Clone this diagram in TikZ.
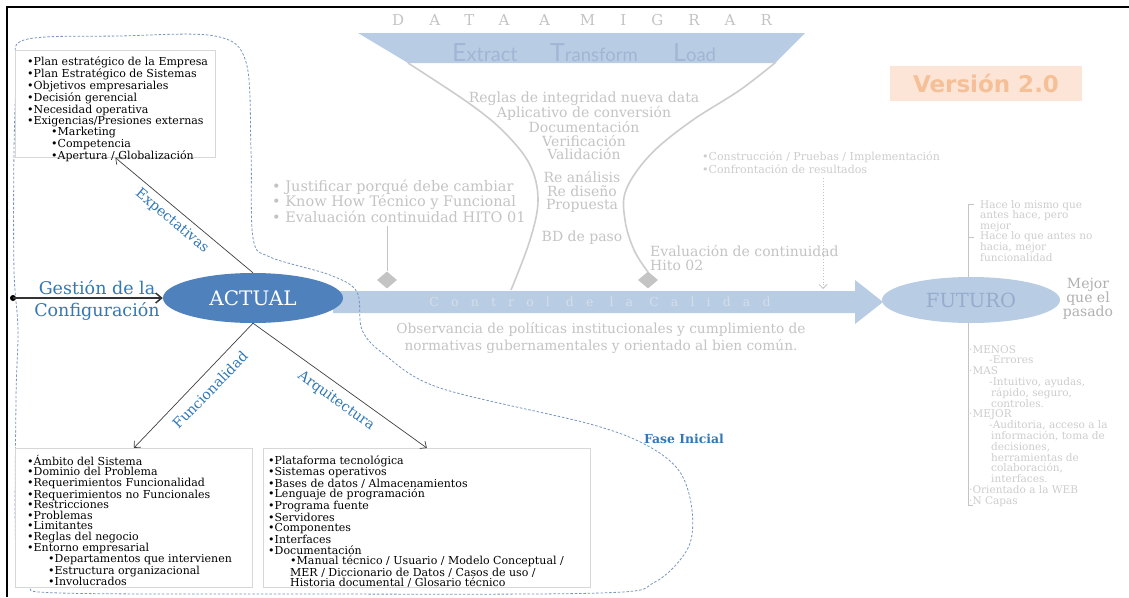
\documentclass[tikz,border=0pt]{standalone}
\usepackage{fontspec}
\setmainfont{DejaVu Serif}
\newfontfamily\dvsans{DejaVu Sans}
\newfontfamily\latof{Lato}
\usetikzlibrary{arrows.meta,shapes.geometric}
\newcommand\fsz[2]{\fontsize{#1}{#2}\selectfont}
\definecolor{bandblue}{RGB}{184,204,228}
\definecolor{actblue}{RGB}{79,129,189}
\definecolor{lblblue}{RGB}{50,120,182}
\definecolor{lgray}{RGB}{196,196,196}
\definecolor{llgray}{RGB}{205,205,205}
\definecolor{dashc}{RGB}{120,150,190}
\definecolor{peach}{RGB}{252,229,214}
\definecolor{peachtxt}{RGB}{245,192,152}
\definecolor{etltxt}{RGB}{160,182,212}
\definecolor{ctrltxt}{RGB}{214,222,232}
\definecolor{futtxt}{RGB}{150,172,205}
\definecolor{boxline}{RGB}{215,215,215}
\tikzset{
  listbox/.style={draw=boxline, line width=0.7pt, fill=white, anchor=north west, inner sep=0pt},
  listtxt/.style={anchor=north west, inner sep=0pt, align=left, font=\fsz{11}{10.5}},
  graytxt/.style={text=lgray, inner sep=0pt},
  bluelbl/.style={text=lblblue, inner sep=0pt, font=\fsz{14}{14}},
  arr/.style={draw=black!75, line width=0.7pt, -{Straight Barb[length=5pt,width=9pt]}},
  curve/.style={draw=lgray!85, line width=1.6pt},
  gdiam/.style={diamond, fill=lgray, minimum width=20pt, minimum height=17pt, inner sep=0pt}
}
\begin{document}
\begin{tikzpicture}[x=1pt,y=-1pt]
\useasboundingbox (0,0) rectangle (1129,597);
\fill[white] (0,0) rectangle (1129,597);
% frame
\draw[line width=2.5pt] (1129,7) -- (7,7) -- (7,597);

% ETL banner
\fill[bandblue] (358,33) -- (805,33) -- (775,63) -- (408,63) -- cycle;
\node[anchor=base west, inner sep=0pt, text=lgray, font=\fsz{15}{15}\addfontfeature{LetterSpace=167}] (datam) at (392,25) {DATA A MIGRAR};
\node[anchor=base west, inner sep=0pt, text=etltxt, font=\latof] (ext) at (452,61) {{\fsz{25}{25}E}{\fsz{20}{20}xtract}};
\node[anchor=base west, inner sep=0pt, text=etltxt, font=\latof] (tra) at (550,61) {{\fsz{25}{25}T}{\fsz{18.5}{18.5}ransform}};
\node[anchor=base west, inner sep=0pt, text=etltxt, font=\latof] (loa) at (673,61) {{\fsz{25}{25}L}{\fsz{18.5}{18.5}oad}};

% hourglass curves
\draw[curve] plot[smooth, tension=0.6] coordinates {(408,63) (470,104) (505,133) (530,165) (538,200) (530,240) (511,290)};
\draw[curve] plot[smooth, tension=0.6] coordinates {(776,62) (740,90) (690,122) (650,155) (626,190) (625,220) (634,250) (648,272)};

% center texts
\node[graytxt, anchor=north, align=center, font=\fsz{14}{13.5}] (reglas) at (584,91.5) {Reglas de integridad nueva data\\Aplicativo de conversión\\Documentación\\Verificación\\Validación};
\node[graytxt, anchor=north, align=center, font=\fsz{14}{13.5}] (rean) at (582,171.5) {Re análisis\\Re diseño\\Propuesta};
\node[graytxt, anchor=north, align=center, font=\fsz{14}{13.5}] (bdp) at (582,230.5) {BD de paso};

% left gray text + diamond
\node[graytxt, anchor=north west, align=left, font=\fsz{14.5}{13.5}] (just) at (272,179.5) {• Justificar porqué debe cambiar\\• Know How Técnico y Funcional\\• Evaluación continuidad HITO 01};
\node[gdiam] (d1) at (387,280) {};
\draw[lgray, line width=0.8pt] (d1 |- just.south) ++(0,3) -- (d1.north);

% right diamond and texts
\node[gdiam] (d2) at (648,280) {};
\node[graytxt, anchor=north west, align=left, font=\fsz{14}{13.5}] (evc) at (650,245.5) {Evaluación de continuidad\\Hito 02};
\node[graytxt, text=llgray, anchor=north west, align=left, font=\fsz{11}{10.5}] (constr) at (702,152) {•Construcción / Pruebas / Implementación\\•Confrontación de resultados};
\coordinate (dtop) at (823,178);
\coordinate (dbot) at (823,289);
\draw[lgray, line width=0.8pt, dotted, -{Straight Barb[length=4pt,width=8pt]}] (dtop) -- (dbot);

% Version
\node[fill=peach, minimum width=192pt, minimum height=35pt, inner sep=0pt, text=peachtxt, font=\dvsans\bfseries\fsz{23}{23}] (ver) at (986,83) {Versión 2.0};

% band arrow
\fill[bandblue] (333,291) -- (855,291) -- (855,280) -- (883,302) -- (855,324) -- (855,313) -- (333,313) -- cycle;
\node[inner sep=0pt, text=ctrltxt, font=\fsz{12.5}{12.5}\addfontfeature{LetterSpace=97}] (ctrl) at (600,302) {Control de la Calidad};
\node[graytxt, align=center, font=\fsz{13.7}{17}] (obs) at (601,338) {Observancia de políticas institucionales y cumplimiento de\\normativas gubernamentales y orientado al bien común.};

% FUTURO
\draw[lgray, line width=0.8pt] (968,204) -- (968,505) -- (973,505);
\draw[lgray, line width=0.8pt] (968,204) -- (974,204);
\draw[lgray, line width=0.8pt] (968,237) -- (974,237);
\node[ellipse, fill=bandblue, minimum width=178pt, minimum height=46pt, inner sep=0pt, text=futtxt, font=\fsz{19.5}{19.5}] (fut) at (971,300) {FUTURO};
\node[graytxt, text=lgray!90!black, align=center, font=\fsz{14}{14}] (mejor) at (1088,299) {Mejor\\que el\\pasado};
\node[graytxt, text=llgray, anchor=north west, align=left, font=\fsz{10.5}{10.6}] (hace) at (980,200) {Hace lo mismo que\\antes hace, pero\\mejor\\Hace lo que antes no\\hacia, mejor\\funcionalidad};
\node[graytxt, text=llgray, anchor=north west, align=left, font=\fsz{10.5}{10.8}] (menos) at (969,345) {·MENOS\\\hspace*{20pt}-Errores\\·MAS\\\hspace*{20pt}-Intuitivo, ayudas,\\\hspace*{22pt}rápido, seguro,\\\hspace*{22pt}controles.\\·MEJOR\\\hspace*{20pt}-Auditoria, acceso a la\\\hspace*{22pt}información, toma de\\\hspace*{22pt}decisiones,\\\hspace*{22pt}herramientas de\\\hspace*{22pt}colaboración,\\\hspace*{22pt}interfaces.\\·Orientado a la WEB\\·N Capas};

% blob (Fase Inicial)
\draw[dashc, line width=0.8pt, dash pattern=on 2.5pt off 1.8pt] plot[smooth cycle, tension=0.55] coordinates {(24,40) (120,36) (215,36) (246,62) (251,150) (253,238) (270,257) (330,275) (357,292) (362,330) (385,355) (440,388) (590,424) (648,446) (680,472) (692,510) (688,548) (655,582) (600,593) (300,594) (60,593) (28,585) (16,555) (16,400) (18,330) (14,270) (14,150) (17,70)};
\node[text=lblblue, inner sep=0pt, font=\bfseries\fsz{12.4}{12.4}] (fase) at (684,439) {Fase Inicial};

% boxes
\node[listbox, minimum width=200pt, minimum height=107pt] (tlbox) at (15,50) {};
\node[listtxt] (tltxt) at (27,56.5) {•Plan estratégico de la Empresa\\•Plan Estratégico de Sistemas\\•Objetivos empresariales\\•Decisión gerencial\\•Necesidad operativa\\•Exigencias/Presiones externas\\\hspace*{24pt}•Marketing\\\hspace*{24pt}•Competencia\\\hspace*{24pt}•Apertura / Globalización};

\node[listbox, minimum width=237pt, minimum height=139pt] (blbox) at (15,448) {};
\node[listtxt] (bltxt) at (27,455) {•Ámbito del Sistema\\•Dominio del Problema\\•Requerimientos Funcionalidad\\•Requerimientos no Funcionales\\•Restricciones\\•Problemas\\•Limitantes\\•Reglas del negocio\\•Entorno empresarial\\\hspace*{21pt}•Departamentos que intervienen\\\hspace*{21pt}•Estructura organizacional\\\hspace*{21pt}•Involucrados};

\node[listbox, minimum width=327pt, minimum height=139pt] (bmbox) at (263,448) {};
\node[listtxt] (bmtxt) at (268,455) {•Plataforma tecnológica\\•Sistemas operativos\\•Bases de datos / Almacenamientos\\•Lenguaje de programación\\•Programa fuente\\•Servidores\\•Componentes\\•Interfaces\\•Documentación\\\hspace*{22pt}•Manual técnico / Usuario / Modelo Conceptual /\\\hspace*{22pt}MER / Diccionario de Datos / Casos de uso /\\\hspace*{22pt}Historia documental / Glosario técnico};

% ACTUAL
\node[ellipse, fill=actblue, minimum width=180pt, minimum height=50pt, inner sep=0pt, text=white, font=\fsz{20}{20}] (actual) at (253,298) {ACTUAL};

% arrows
\draw[arr] (actual.north) -- (tlbox.south);
\draw[arr] (actual.south) -- (blbox.north);
\draw[arr] (actual.south) -- (bmbox.north);
\coordinate (gstart) at (13,298);
\fill[black] (gstart) circle (3pt);
\draw[black!80, line width=1.5pt, -{Straight Barb[length=6pt,width=10pt]}] (gstart) -- (actual.west);

\node[bluelbl, rotate=-40] (expl) at (172,221) {Expectativas};
\node[bluelbl, rotate=46] (funl) at (210,390) {Funcionalidad};
\node[bluelbl, rotate=-36] (arql) at (336,401) {Arquitectura};
\node[text=lblblue, inner sep=0pt, align=center, font=\fsz{17.5}{22}] (gest) at (97,300) {Gestión de la\\Configuración};
\end{tikzpicture}
\end{document}
